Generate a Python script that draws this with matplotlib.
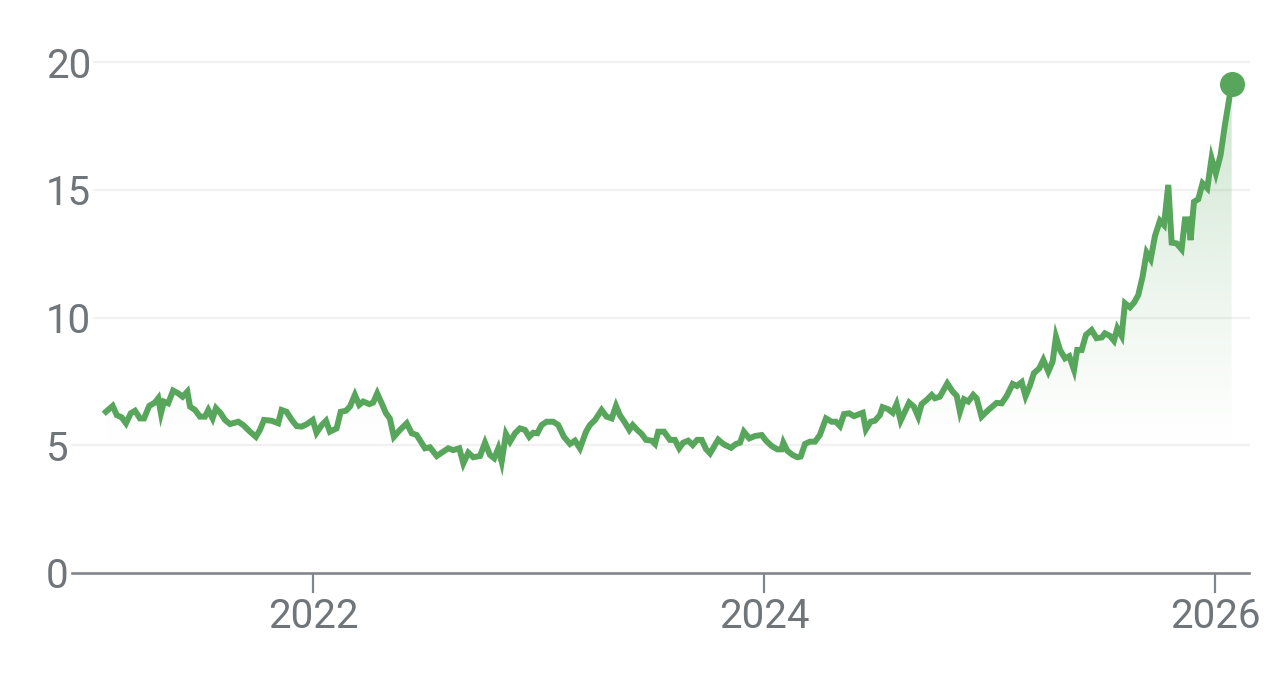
import matplotlib
matplotlib.use('Agg')
import matplotlib.pyplot as plt
import matplotlib.transforms as mtransforms
from matplotlib.patches import PathPatch
from matplotlib.path import Path
import numpy as np

plt.rcParams['font.family'] = ['Roboto', 'DejaVu Sans']

# ---------------- data ----------------
years = [
    2021.082, 2021.112, 2021.130, 2021.152, 2021.171, 2021.192, 2021.211, 2021.233,
    2021.251, 2021.274, 2021.299, 2021.314, 2021.326, 2021.339, 2021.358, 2021.380,
    2021.403, 2021.422, 2021.443, 2021.455, 2021.477, 2021.499, 2021.521, 2021.536,
    2021.555, 2021.570, 2021.591, 2021.610, 2021.632, 2021.669, 2021.691, 2021.721,
    2021.747, 2021.765, 2021.783, 2021.817, 2021.846, 2021.861, 2021.883, 2021.906,
    2021.928, 2021.950, 2021.972, 2021.999, 2022.016, 2022.039, 2022.058, 2022.075,
    2022.105, 2022.123, 2022.146, 2022.164, 2022.186, 2022.205, 2022.223, 2022.250,
    2022.267, 2022.285, 2022.305, 2022.324, 2022.341, 2022.359, 2022.386, 2022.416,
    2022.438, 2022.460, 2022.497, 2022.519, 2022.549, 2022.571, 2022.600, 2022.622,
    2022.649, 2022.667, 2022.689, 2022.711, 2022.741, 2022.763, 2022.785, 2022.804,
    2022.822, 2022.837, 2022.856, 2022.874, 2022.896, 2022.918, 2022.940, 2022.959,
    2022.977, 2022.995, 2023.014, 2023.036, 2023.066, 2023.088, 2023.113, 2023.140,
    2023.162, 2023.184, 2023.211, 2023.228, 2023.251, 2023.280, 2023.302, 2023.325,
    2023.344, 2023.361, 2023.384, 2023.403, 2023.418, 2023.438, 2023.458, 2023.477,
    2023.502, 2023.517, 2023.531, 2023.557, 2023.583, 2023.605, 2023.624, 2023.642,
    2023.664, 2023.684, 2023.704, 2023.724, 2023.743, 2023.761, 2023.797, 2023.823,
    2023.854, 2023.876, 2023.894, 2023.911, 2023.935, 2023.960, 2023.990, 2024.009,
    2024.034, 2024.059, 2024.078, 2024.086, 2024.103, 2024.127, 2024.148, 2024.163,
    2024.182, 2024.204, 2024.226, 2024.248, 2024.275, 2024.300, 2024.319, 2024.337,
    2024.355, 2024.378, 2024.399, 2024.423, 2024.438, 2024.452, 2024.473, 2024.492,
    2024.514, 2024.526, 2024.551, 2024.571, 2024.588, 2024.606, 2024.625, 2024.644,
    2024.665, 2024.684, 2024.699, 2024.721, 2024.744, 2024.758, 2024.780, 2024.813,
    2024.837, 2024.855, 2024.869, 2024.887, 2024.906, 2024.928, 2024.943, 2024.965,
    2024.995, 2025.032, 2025.054, 2025.076, 2025.103, 2025.122, 2025.143, 2025.160,
    2025.180, 2025.197, 2025.221, 2025.239, 2025.261, 2025.280, 2025.295, 2025.313,
    2025.335, 2025.354, 2025.375, 2025.389, 2025.409, 2025.428, 2025.453, 2025.475,
    2025.498, 2025.512, 2025.534, 2025.552, 2025.567, 2025.586, 2025.601, 2025.623,
    2025.641, 2025.660, 2025.679, 2025.697, 2025.715, 2025.734, 2025.756, 2025.774,
    2025.793, 2025.808, 2025.830, 2025.852, 2025.867, 2025.882, 2025.892, 2025.907,
    2025.926, 2025.945, 2025.966, 2025.985, 2026.004, 2026.025, 2026.044, 2026.074,
]
values = [
    6.31, 6.54, 6.18, 6.09, 5.86, 6.25, 6.35, 6.05,
    6.05, 6.54, 6.67, 6.84, 6.25, 6.71, 6.64, 7.14,
    7.03, 6.90, 7.10, 6.51, 6.38, 6.12, 6.12, 6.38,
    6.05, 6.45, 6.25, 5.99, 5.83, 5.92, 5.79, 5.53,
    5.33, 5.60, 5.99, 5.96, 5.86, 6.38, 6.31, 5.99,
    5.75, 5.73, 5.82, 5.99, 5.49, 5.79, 5.96, 5.53,
    5.66, 6.31, 6.35, 6.51, 6.97, 6.58, 6.71, 6.61,
    6.67, 7.03, 6.64, 6.25, 6.05, 5.33, 5.60, 5.86,
    5.47, 5.40, 4.88, 4.92, 4.58, 4.71, 4.88, 4.81,
    4.88, 4.29, 4.71, 4.53, 4.58, 5.10, 4.62, 4.49,
    4.88, 4.36, 5.44, 5.14, 5.47, 5.66, 5.60, 5.33,
    5.49, 5.47, 5.79, 5.92, 5.92, 5.79, 5.33, 5.05,
    5.18, 4.88, 5.53, 5.79, 5.99, 6.38, 6.12, 6.05,
    6.54, 6.18, 5.88, 5.60, 5.79, 5.60, 5.44, 5.21,
    5.18, 5.05, 5.53, 5.53, 5.21, 5.21, 4.88, 5.10,
    5.18, 5.01, 5.21, 5.21, 4.85, 4.68, 5.22, 5.03,
    4.90, 5.05, 5.10, 5.53, 5.27, 5.36, 5.40, 5.18,
    4.97, 4.84, 4.84, 5.10, 4.79, 4.62, 4.53, 4.56,
    5.05, 5.14, 5.14, 5.40, 6.05, 5.92, 5.92, 5.75,
    6.22, 6.25, 6.14, 6.22, 6.27, 5.62, 5.92, 5.96,
    6.18, 6.49, 6.41, 6.27, 6.61, 5.96, 6.31, 6.67,
    6.51, 6.12, 6.61, 6.77, 6.97, 6.84, 6.90, 7.42,
    7.10, 6.93, 6.31, 6.80, 6.71, 6.97, 6.84, 6.12,
    6.38, 6.66, 6.64, 6.92, 7.40, 7.32, 7.47, 6.92,
    7.35, 7.82, 8.01, 8.34, 7.88, 8.27, 9.25, 8.73,
    8.40, 8.49, 7.95, 8.73, 8.73, 9.32, 9.51, 9.19,
    9.22, 9.38, 9.28, 9.09, 9.58, 9.28, 10.56, 10.40,
    10.58, 10.88, 11.60, 12.54, 12.28, 13.19, 13.79, 13.62,
    15.19, 12.93, 12.90, 12.67, 13.84, 13.84, 13.03, 14.53,
    14.63, 15.25, 15.06, 16.23, 15.64, 16.36, 17.53, 19.14,
]
y_ticks = [0, 5, 10, 15, 20]
y_labels = ['0', '5', '10', '15', '20']
x_ticks = [2022, 2024, 2026]
x_labels = ['2022', '2024', '2026']

# ---------------- styling ----------------
GREEN = '#58a65c'
TEXT = '#70757a'
AXIS = '#80868b'
GRID = '#f1f1f1'

W, H = 1288, 686
fig = plt.figure(figsize=(W / 100, H / 100), dpi=100)
ax_left, ax_right = 73, 1249
ax_top, ax_bot = 62, 573
ax = fig.add_axes([ax_left / W, (H - ax_bot) / H, (ax_right - ax_left) / W, (ax_bot - ax_top) / H])
ax.set_facecolor('none')
for s in ax.spines.values():
    s.set_visible(False)

ax.set_yticks([])
ax.set_xticks(x_ticks)
ax.set_xticklabels(x_labels)
ax.tick_params(axis='x', length=14.5, width=1.6, color=AXIS, labelsize=29,
               labelcolor=TEXT, pad=3)

# gradient fill under the line
verts = [(years[0], 0)] + list(zip(years, values)) + [(years[-1], 0)]
clip = PathPatch(Path(verts), facecolor='none', edgecolor='none')
ax.add_patch(clip)
n = 256
t = np.linspace(0, 1, n)
grad = np.zeros((n, 1, 4))
rgb = matplotlib.colors.to_rgb(GREEN)
grad[:, 0, 0] = rgb[0]
grad[:, 0, 1] = rgb[1]
grad[:, 0, 2] = rgb[2]
grad[:, 0, 3] = 0.30 * np.clip((t - 0.25) / 0.75, 0, 1) ** 1.2
im = ax.imshow(grad, extent=[years[0], years[-1], 0, max(values)], origin='lower',
               aspect='auto', zorder=1, interpolation='bilinear')
im.set_clip_path(clip)

ax.set_xlim(2020.936, 2026.151)
ax.set_ylim(0, 20)

ax.plot(years, values, color=GREEN, lw=4.3, zorder=3, solid_joinstyle='miter',
        clip_on=False)
ax.plot([years[-1]], [values[-1]], 'o', ms=17, color=GREEN, zorder=4, clip_on=False)

# y labels (left-aligned) + gridlines starting right after each label
trans = mtransforms.blended_transform_factory(fig.transFigure, ax.transData)
texts = []
for v, lab in zip(y_ticks, y_labels):
    t_ = ax.text(46 / W, v, lab, transform=trans, ha='left', va='center_baseline',
                 fontsize=29, color=TEXT)
    texts.append(t_)
fig.canvas.draw()
renderer = fig.canvas.get_renderer()
for v, t_ in zip(y_ticks, texts):
    bb = t_.get_window_extent(renderer)
    x0 = bb.x1 + 3
    frac = (x0 - ax_left) / (ax_right - ax_left)
    if v == 0:
        ax.axhline(v, xmin=frac, xmax=1, color=AXIS, lw=1.9, zorder=5, clip_on=False)
    else:
        ax.axhline(v, xmin=frac, xmax=1, color=GRID, lw=1.6, zorder=0, clip_on=False)

fig.savefig('out.png', dpi=100, facecolor='white')
